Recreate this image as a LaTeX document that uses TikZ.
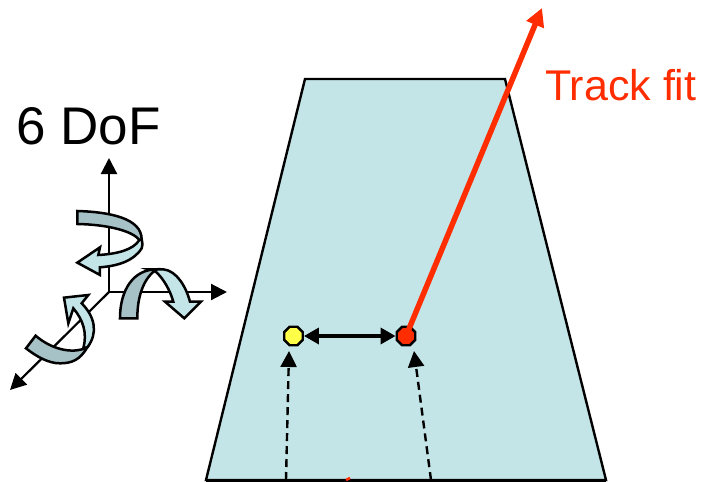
\documentclass[tikz,border=0pt]{standalone}
\usepackage{fontspec}
\setmainfont{Liberation Sans}
\usepackage{xcolor}
\usetikzlibrary{arrows.meta,positioning,calc,shapes.geometric}
\definecolor{plane}{RGB}{196,229,232}
\definecolor{band}{RGB}{166,194,198}
\definecolor{fit}{RGB}{255,45,0}
\definecolor{hit}{RGB}{255,255,71}
\tikzset{
	axis/.style={line width=2.2pt,-{Triangle[length=16pt,width=16pt]}},
	twist/.style={draw=black,line width=2.5pt,line join=miter},
	hitdot/.style={draw=black,line width=2.4pt,regular polygon,regular polygon sides=8,inner sep=0pt,minimum size=20pt},
	track/.style={dash pattern=on 8pt off 5pt,line width=2.4pt,-{Triangle[length=16pt,width=16pt]}},
}
\begin{document}
\begin{tikzpicture}[x=1pt,y=-1pt]
	\useasboundingbox (0,0) rectangle (702,482);
	
	\fill[plane] (305,79)--(505,79)--(606,480)--(206,480)--cycle;
	\draw[line width=2.4pt] (206,480)--(305,79)--(505,79)--(606,480)--cycle;
	\draw[line width=3pt] (206,480)--(606,480);
	\draw[fit,line width=2.5pt] (346,480)--(350,478);
	
	\node[hitdot,fill=hit] (measured) at (293.5,336) {};
	\node[hitdot,fill=fit] (predicted) at (406,336) {};
	\coordinate (tip) at (542,8);
	\coordinate (footA) at (286,480);
	\coordinate (footB) at (431,480);
	
	\draw[fit,line width=5.5pt,-{Triangle[length=18pt,width=18pt]}] (predicted.center)--(tip);
	\draw[line width=3.4pt,{Triangle[length=15pt,width=16pt]}-{Triangle[length=15pt,width=16pt]}] (measured)--(predicted);
	\draw[track] (footA)--(289,351);
	\draw[track] (footB)--(414,351);
	
	\node[right,fit,inner sep=0pt,font=\fontsize{43}{45}\selectfont] (fitlabel) at (545,85) {Track fit};
	\node[right,inner sep=0pt,font=\fontsize{53}{56}\selectfont] (dof) at (16,126) {6 DoF};
	
	\coordinate (origin) at (109,292);
	\coordinate (up) at (109,158);
	\coordinate (across) at (227,292);
	\coordinate (down) at (10,390);
	\draw[axis] (origin)--(up);
	\draw[axis] (origin)--(across);
	\draw[axis] (origin)--(down);
	
	\begin{scope}[x=0.3333pt,y=-0.3333pt,shift={(0pt,-150pt)}]
		% about the vertical axis
		\filldraw[twist,fill=plane] (425,268) .. controls (428,280) and (428,290) .. (425,295)
			.. controls (400,335) and (350,348) .. (300,352) -- (300,375) -- (232,338) -- (300,292) -- (295,315)
			.. controls (350,312) and (400,300) .. (418,270) -- cycle;
		\filldraw[twist,fill=band] (232,183) .. controls (330,186) and (425,205) .. (425,268)
			-- (418,270) .. controls (400,245) and (330,224) .. (232,222) -- cycle;
		% about the horizontal axis
		\filldraw[twist,fill=plane] (445,358) -- (490,358) .. controls (530,362) and (558,410) .. (570,455)
			-- (603,455) -- (553,505) -- (495,455) -- (520,455) .. controls (510,420) and (490,385) .. (467,365) -- cycle;
		\filldraw[twist,fill=band] (360,505) .. controls (360,420) and (400,358) .. (470,358)
			.. controls (430,385) and (412,440) .. (412,505) -- cycle;
		% about the third axis
		\filldraw[twist,fill=plane] (262,592) .. controls (295,550) and (285,500) .. (245,460)
			-- (265,435) -- (192,443) -- (205,520) -- (220,475) .. controls (250,510) and (262,550) .. (250,595) -- cycle;
		\filldraw[twist,fill=band] (78,595) -- (107,557) .. controls (150,595) and (215,615) .. (262,592)
			.. controls (240,630) and (215,640) .. (180,640) .. controls (145,640) and (110,620) .. (78,595) -- cycle;
	\end{scope}
\end{tikzpicture}
\end{document}
